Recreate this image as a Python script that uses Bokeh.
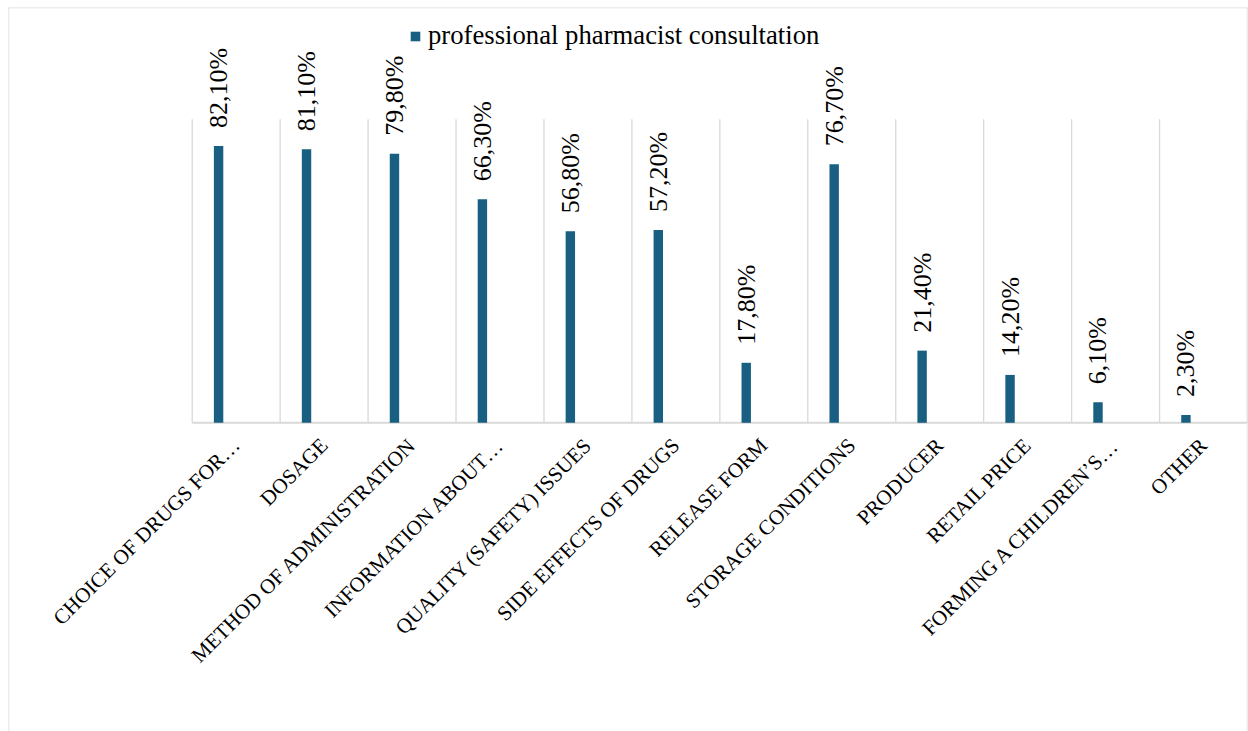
import numpy as np
from bokeh.plotting import figure
from bokeh.models import ColumnDataSource, Range1d, Legend, LegendItem, Span, LabelSet
from bokeh.transform import dodge
from bokeh.embed import file_html
from bokeh.resources import INLINE
from bokeh.core.properties import value

# --- data -------------------------------------------------------------
categories = [
    "CHOICE OF DRUGS FOR…",
    "DOSAGE",
    "METHOD OF ADMINISTRATION",
    "INFORMATION ABOUT…",
    "QUALITY (SAFETY) ISSUES",
    "SIDE EFFECTS OF DRUGS",
    "RELEASE FORM",
    "STORAGE CONDITIONS",
    "PRODUCER",
    "RETAIL PRICE",
    "FORMING A CHILDREN’S…",
    "OTHER",
]
consultation = [82.1, 81.1, 79.8, 66.3, 56.8, 57.2, 17.8, 76.7, 21.4, 14.2, 6.1, 2.3]
series_name = "professional pharmacist consultation"

# --- styling ----------------------------------------------------------
BAR_COLOR = "#185f81"
GRID_COLOR = "#d9d9d9"
FONT = "Liberation Serif"
Y_MAX = 90          # top of the value axis (gridlines stop here)
PX_PER_UNIT = 3.372 # vertical scale, pixels per percent
CAT_PX = 87.94      # width of one category slot in pixels

W, H = 1248, 731
BORDER_L, BORDER_T, BORDER_R = 8, 7, 1
PLOT_LEFT_PX = 191.7
BASELINE_PX = 422.3

n = len(categories)
idx = np.arange(n)

labels = [f"{v:.2f}".replace(".", ",") + "%" for v in consultation]
source = ColumnDataSource(dict(x=idx, top=consultation, label=labels, cat=categories))

x_start = -0.5 - (PLOT_LEFT_PX - BORDER_L) / CAT_PX
x_end = n - 0.5
y_end = (BASELINE_PX - BORDER_T) / PX_PER_UNIT
y_start = -(H - BASELINE_PX) / PX_PER_UNIT

p = figure(
    width=W, height=H,
    x_range=Range1d(x_start, x_end), y_range=Range1d(y_start, y_end),
    x_axis_type=None, y_axis_type=None,
    output_backend="svg", toolbar_location=None,
    min_border_left=BORDER_L, min_border_top=BORDER_T,
    min_border_right=BORDER_R, min_border_bottom=0,
)
p.outline_line_color = None
p.background_fill_color = "white"
p.border_fill_color = "white"

# chart border on the left, top and right (open at the bottom)
for loc, dim in ((x_start, "height"), (x_end, "height"), (y_end, "width")):
    p.add_layout(Span(location=loc, dimension=dim, line_color=GRID_COLOR, line_width=1.5))

# vertical separators between categories
bounds = np.arange(n + 1) - 0.5
p.segment(x0=bounds, y0=np.zeros(n + 1), x1=bounds, y1=np.full(n + 1, Y_MAX),
          line_color=GRID_COLOR, line_width=1.3)
# category axis line
p.segment(x0=[bounds[0]], y0=[0], x1=[bounds[-1]], y1=[0],
          line_color=GRID_COLOR, line_width=2)

bar_x = dodge("x", -0.2, range=p.x_range)
bars = p.vbar(x=bar_x, top="top", bottom=0, width=0.107,
              source=source, fill_color=BAR_COLOR, line_color=None)

# value labels, rotated, floating above each bar
value_labels = LabelSet(
    x=bar_x, y="top", text="label", source=source,
    angle=np.pi / 2, text_align="left", text_baseline="middle",
    y_offset=18, text_font=value(FONT), text_font_size="26px",
    text_color="black",
)
p.add_layout(value_labels)

# category labels, slanted under the axis
p.text(x="x", y=0, text="cat", source=source,
       angle=np.pi / 4, text_align="right", text_baseline="middle",
       x_offset=0, y_offset=19, text_font=value(FONT), text_font_size="21px",
       text_color="black")

legend = Legend(
    items=[LegendItem(label=series_name, renderers=[bars])],
    location=(401, 680), orientation="horizontal",
    glyph_width=12, glyph_height=12, label_standoff=7,
    padding=0, margin=0, spacing=0,
    border_line_color=None, background_fill_alpha=0,
    label_text_font=FONT, label_text_font_size="26.7px", label_text_color="black",
)
p.add_layout(legend)

open("out.html", "w").write(file_html(p, INLINE))
